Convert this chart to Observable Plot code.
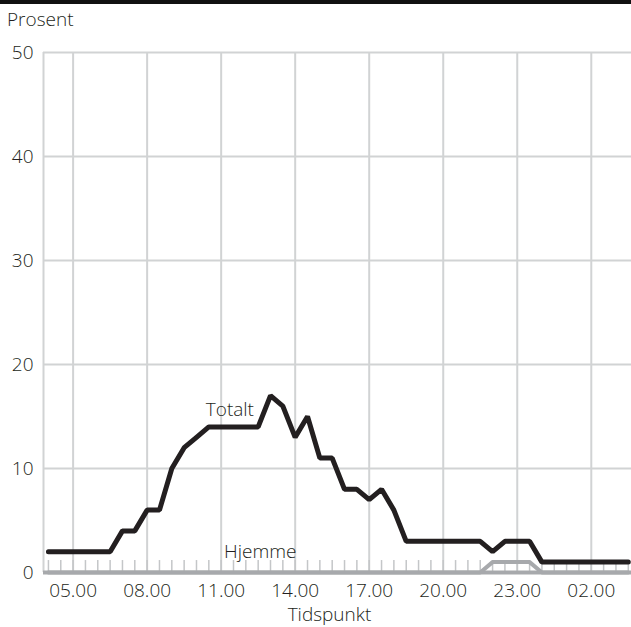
<!DOCTYPE html>
<html>
<head>
<meta charset="utf-8">
<script src="https://cdn.jsdelivr.net/npm/d3@7"></script>
<script src="https://cdn.jsdelivr.net/npm/@observablehq/plot@0.6"></script>
<style>
  html, body { margin: 0; padding: 0; background: #fff; }
  body { width: 631px; height: 627px; overflow: hidden; font-family: "Open Sans", sans-serif; color: #231f20; font-weight: 300; }
  #head { position: relative; height: 32px; }
  #topline { position: absolute; left: 0; top: 0px; width: 631px; height: 4px; background: #111; }
  #ylabel { position: absolute; left: 7px; top: 6px; font-size: 19px; line-height: normal; }
  #chart svg { display: block; }
  #chart svg text { font-weight: 300; }
</style>
</head>
<body>
<div id="head"><div id="topline"></div><div id="ylabel">Prosent</div></div>
<div id="chart"></div>
<script>
const times = ["04.00","04.30","05.00","05.30","06.00","06.30","07.00","07.30","08.00","08.30",
  "09.00","09.30","10.00","10.30","11.00","11.30","12.00","12.30","13.00","13.30",
  "14.00","14.30","15.00","15.30","16.00","16.30","17.00","17.30","18.00","18.30",
  "19.00","19.30","20.00","20.30","21.00","21.30","22.00","22.30","23.00","23.30",
  "00.00","00.30","01.00","01.30","02.00","02.30","03.00","03.30"];
const totalt = [2,2,2,2,2,2,4,4,6,6,
  10,12,13,14,14,14,14,14,17,16,
  13,15,11,11,8,8,7,8,6,3,
  3,3,3,3,3,3,2,3,3,3,
  1,1,1,1,1,1,1,1];
const hjemme = [0,0,0,0,0,0,0,0,0,0,
  0,0,0,0,0,0,0,0,0,0,
  0,0,0,0,0,0,0,0,0,0,
  0,0,0,0,0,0,1,1,1,1,
  0,0,0,0,0,0,0,0];
const xTicks = [5, 8, 11, 14, 17, 20, 23, 26];
const xTickLabels = ["05.00","08.00","11.00","14.00","17.00","20.00","23.00","02.00"];
const yTicks = [0, 10, 20, 30, 40, 50];
const xDomain = [3.8, 27.63];
const yDomain = [0, 50];
const seriesNames = ["Totalt", "Hjemme"];
const labelX = [12.33, 14.05];
const labelY = [15.6, 1.95];
const xTitle = "Tidspunkt";

const hour = s => { const [hh, mm] = s.split(".").map(Number); const h = hh + mm / 60; return h < 4 ? h + 24 : h; };
const hours = times.map(hour);
const rowsTot = hours.map((h, i) => ({h, v: totalt[i]}));
const rowsHj = hours.map((h, i) => ({h, v: hjemme[i]}));
const labels = seriesNames.map((n, i) => ({n, x: labelX[i], y: labelY[i]}));

const gridC = "#d1d3d4";
const plot = Plot.plot({
  width: 631,
  height: 595,
  marginLeft: 43,
  marginRight: 0,
  marginTop: 20,
  marginBottom: 55,
  style: {fontFamily: "Open Sans, sans-serif", fontSize: "19px", color: "#231f20", background: "#fff", overflow: "visible"},
  x: {domain: xDomain, axis: null},
  y: {domain: yDomain, axis: null},
  marks: [
    Plot.gridX(xTicks, {stroke: gridC, strokeOpacity: 1, strokeWidth: 2}),
    Plot.gridY(yTicks.slice(1), {stroke: gridC, strokeOpacity: 1, strokeWidth: 2}),
    Plot.ruleX([xDomain[0]], {stroke: gridC, strokeWidth: 2}),
    Plot.ruleX(hours, {x: d => d, y1: 0, y2: 1.15, stroke: "#c4c6c8", strokeWidth: 1.5}),
    Plot.ruleY([0], {stroke: "#a7a9ac", strokeWidth: 4}),
    Plot.axisY(yTicks, {tickSize: 0, tickPadding: 10, fontSize: "19px", label: null, style: "letter-spacing: 1px"}),
    Plot.axisX(xTicks, {tickSize: 0, tickPadding: 11, tickFormat: (d) => xTickLabels[xTicks.indexOf(d)], fontSize: "19px", label: null, style: "letter-spacing: 1.4px"}),
    Plot.lineY(rowsHj, {x: "h", y: "v", stroke: "#a7a9ac", strokeWidth: 4, strokeLinejoin: "miter"}),
    Plot.lineY(rowsTot, {x: "h", y: "v", stroke: "#231f20", strokeWidth: 5, strokeLinejoin: "miter"}),
    Plot.text(labels, {x: "x", y: "y", text: "n", textAnchor: "end", fill: "#231f20", fontSize: 19, style: "letter-spacing: 0.6px"}),
    Plot.text([xTitle], {frameAnchor: "bottom", text: d => d, dx: -8, dy: 48, fill: "#231f20", fontSize: 19, style: "letter-spacing: 0.5px"})
  ]
});
document.getElementById("chart").appendChild(plot);
</script>
</body>
</html>
